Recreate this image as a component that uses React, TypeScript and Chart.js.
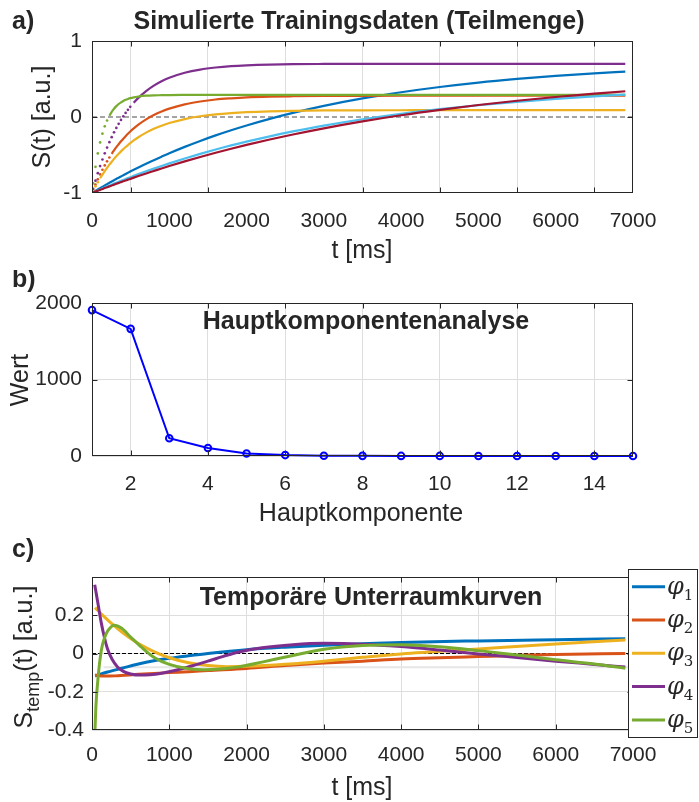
import React, { useEffect, useRef } from "react";
import { Chart, registerables } from "chart.js";
Chart.register(...registerables);

const SANS = '"Liberation Sans", Arial, Helvetica, sans-serif';
const SERIF = '"DejaVu Serif", "Liberation Serif", serif';
const INK = "#262626";
const GRID = "#dedede";
const W = 699;
const H_A = 270;
const H_B = 265;
const H_C = 267;
const Y_AXIS_W = 80;
const X_AXIS_H = 60;

// ---------------- Panel a: simulated training data ----------------
const A_TITLE = "Simulierte Trainingsdaten (Teilmenge)";
const A_X_TITLE = "t [ms]";
const A_Y_TITLE = "S(t) [a.u.]";
const A_TIME = [15, 45, 75, 105, 135, 165, 195, 225, 255, 285, 315, 345, 375, 405, 435, 465, 495,
  540, 600, 700, 800, 900, 1000, 1200, 1400, 1600, 1800, 2000, 2300, 2600, 3000,
  3500, 4000, 4500, 5000, 5500, 6000, 6500, 6900];
const A_BLUE = [-0.991, -0.972, -0.954, -0.936, -0.918, -0.901, -0.883, -0.866, -0.849, -0.832, -0.815, -0.799, -0.782, -0.766, -0.750, -0.734, -0.718,
  -0.695, -0.665, -0.615, -0.568, -0.522, -0.477, -0.393, -0.315, -0.242, -0.174, -0.111, -0.024, 0.054, 0.146,
  0.244, 0.326, 0.395, 0.453, 0.501, 0.542, 0.575, 0.598];
const A_ORANGE = [-0.962, -0.889, -0.820, -0.755, -0.694, -0.637, -0.583, -0.533, -0.485, -0.440, -0.397, -0.358, -0.320, -0.285, -0.252, -0.220, -0.191,
  -0.150, -0.101, -0.031, 0.026, 0.072, 0.110, 0.167, 0.204, 0.230, 0.246, 0.258, 0.268, 0.273, 0.277,
  0.279, 0.280, 0.280, 0.280, 0.280, 0.280, 0.280, 0.280];
const A_YELLOW = [-0.970, -0.912, -0.858, -0.806, -0.758, -0.712, -0.668, -0.627, -0.588, -0.551, -0.516, -0.483, -0.452, -0.423, -0.395, -0.369, -0.344,
  -0.309, -0.267, -0.206, -0.156, -0.114, -0.079, -0.027, 0.010, 0.035, 0.052, 0.064, 0.075, 0.081, 0.086,
  0.088, 0.089, 0.090, 0.090, 0.090, 0.090, 0.090, 0.090];
const A_PURPLE = [-0.944, -0.838, -0.739, -0.646, -0.559, -0.478, -0.402, -0.331, -0.265, -0.202, -0.144, -0.090, -0.039, 0.009, 0.053, 0.095, 0.134,
  0.188, 0.252, 0.341, 0.413, 0.470, 0.516, 0.582, 0.624, 0.651, 0.669, 0.680, 0.690, 0.695, 0.698,
  0.700, 0.700, 0.700, 0.700, 0.700, 0.700, 0.700, 0.700];
const A_GREEN = [-0.873, -0.656, -0.479, -0.335, -0.219, -0.123, -0.046, 0.017, 0.068, 0.109, 0.143, 0.171, 0.193, 0.211, 0.226, 0.238, 0.248,
  0.259, 0.269, 0.280, 0.285, 0.287, 0.289, 0.290, 0.290, 0.290, 0.290, 0.290, 0.290, 0.290, 0.290,
  0.290, 0.290, 0.290, 0.290, 0.290, 0.290, 0.290, 0.290];
const A_LIGHTBLUE = [-0.993, -0.980, -0.966, -0.953, -0.940, -0.927, -0.914, -0.902, -0.889, -0.876, -0.864, -0.852, -0.840, -0.828, -0.816, -0.804, -0.792,
  -0.775, -0.752, -0.715, -0.679, -0.644, -0.610, -0.546, -0.485, -0.428, -0.374, -0.324, -0.254, -0.190, -0.113,
  -0.030, 0.042, 0.103, 0.155, 0.200, 0.239, 0.272, 0.295];
const A_RED = [-0.994, -0.982, -0.970, -0.959, -0.947, -0.935, -0.924, -0.913, -0.901, -0.890, -0.879, -0.868, -0.857, -0.846, -0.835, -0.824, -0.814,
  -0.798, -0.777, -0.743, -0.710, -0.677, -0.645, -0.584, -0.526, -0.471, -0.418, -0.367, -0.296, -0.230, -0.149,
  -0.058, 0.023, 0.094, 0.158, 0.214, 0.263, 0.307, 0.339];
const A_ZERO_X = [0, 7000];
const A_ZERO_Y = [0, 0];

// ---------------- Panel b: PCA ----------------
const B_TITLE = "Hauptkomponentenanalyse";
const B_X_TITLE = "Hauptkomponente";
const B_Y_TITLE = "Wert";
const B_COMPONENT = [1, 2, 3, 4, 5, 6, 7, 8, 9, 10, 11, 12, 13, 14, 15];
const B_VALUE = [1907, 1662, 232, 105, 33, 12, 4, 2, 1, 1, 0, 0, 0, 0, 0];

// ---------------- Panel c: temporal subspace curves ----------------
const C_TITLE = "Temporäre Unterraumkurven";
const C_X_TITLE = "t [ms]";
const C_LEGEND = ["1", "2", "3", "4", "5"];
const C_PHI1_T = [40, 200, 400, 600, 800, 1000, 1250, 1500, 2000, 2500, 3000, 3500, 4000, 5000, 6000, 6900];
const C_PHI1_V = [-0.118, -0.097, -0.076, -0.055, -0.038, -0.025, -0.012, 0.000, 0.020, 0.033, 0.043, 0.051, 0.058, 0.066, 0.072, 0.077];
const C_PHI2_T = [40, 150, 300, 600, 1000, 1250, 1500, 2000, 2500, 3000, 3500, 4000, 4500, 5000, 5500, 6000, 6900];
const C_PHI2_V = [-0.113, -0.118, -0.117, -0.109, -0.100, -0.095, -0.089, -0.078, -0.063, -0.050, -0.040, -0.029, -0.022, -0.016, -0.010, -0.005, 0.000];
const C_PHI3_T = [40, 150, 300, 450, 600, 800, 1000, 1250, 1500, 1750, 2000, 2500, 3000, 3500, 4000, 5000, 6000, 6900];
const C_PHI3_V = [0.240, 0.195, 0.140, 0.092, 0.052, 0.010, -0.022, -0.048, -0.063, -0.069, -0.067, -0.056, -0.040, -0.020, -0.002, 0.024, 0.050, 0.071];
const C_PHI4_T = [35, 80, 120, 160, 200, 260, 330, 400, 500, 620, 750, 900, 1100, 1300, 1500, 1700, 1900, 2200, 2600, 3000, 3500, 4000, 4500, 5000, 5500, 6000, 6500, 6900];
const C_PHI4_V = [0.360, 0.255, 0.160, 0.085, 0.025, -0.030, -0.070, -0.092, -0.107, -0.113, -0.111, -0.103, -0.086, -0.064, -0.040, -0.015, 0.008, 0.030, 0.046, 0.053, 0.049, 0.036, 0.018, -0.002, -0.021, -0.040, -0.057, -0.071];
const C_PHI5_T = [30, 50, 80, 120, 165, 210, 290, 380, 500, 640, 810, 1000, 1250, 1450, 1700, 1900, 2200, 2600, 3000, 3500, 4000, 4500, 5000, 5500, 6000, 6500, 6900];
const C_PHI5_V = [-0.500, -0.280, -0.120, 0.015, 0.085, 0.122, 0.148, 0.133, 0.086, 0.033, -0.022, -0.057, -0.080, -0.085, -0.080, -0.070, -0.045, -0.010, 0.022, 0.042, 0.046, 0.035, 0.015, -0.008, -0.033, -0.055, -0.077];
const C_ZERO_X = [0, 7000];
const C_ZERO_Y = [0, 0];
const C_STRAY_X = [150, 7180];
const C_STRAY_Y = -0.072;

const COLORS = ["#0072BD", "#D95319", "#EDB120", "#7E2F8E", "#77AC30", "#4DBEEE", "#A2142F"];

const pts = (xs: number[], ys: number[]) => xs.map((x, i) => ({ x, y: ys[i] }));

function txt(ctx: CanvasRenderingContext2D, s: string, x: number, y: number, font: string, align: CanvasTextAlign = "left") {
  ctx.save();
  ctx.font = font;
  ctx.fillStyle = INK;
  ctx.textAlign = align;
  ctx.textBaseline = "alphabetic";
  ctx.fillText(s, x, y);
  ctx.restore();
}

function vtxt(ctx: CanvasRenderingContext2D, s: string, x: number, cy: number, font: string) {
  ctx.save();
  ctx.translate(x, cy);
  ctx.rotate(-Math.PI / 2);
  ctx.font = font;
  ctx.fillStyle = INK;
  ctx.textAlign = "center";
  ctx.textBaseline = "alphabetic";
  ctx.fillText(s, 0, 0);
  ctx.restore();
}

function frame(chart: any, xMarks: number[], yMarks: number[]) {
  const { ctx, chartArea: a, scales } = chart;
  ctx.save();
  ctx.strokeStyle = INK;
  ctx.lineWidth = 1;
  const L = Math.round(a.left) + 0.5, R = Math.round(a.right) - 0.5;
  const T = Math.round(a.top) + 0.5, B = Math.round(a.bottom) - 0.5;
  ctx.strokeRect(L, T, R - L, B - T);
  ctx.beginPath();
  for (const v of xMarks) {
    const p = Math.round(scales.x.getPixelForValue(v)) + 0.5;
    ctx.moveTo(p, T); ctx.lineTo(p, T + 5);
    ctx.moveTo(p, B); ctx.lineTo(p, B - 5);
  }
  for (const v of yMarks) {
    const p = Math.round(scales.y.getPixelForValue(v)) + 0.5;
    ctx.moveTo(L, p); ctx.lineTo(L + 5, p);
    ctx.moveTo(R, p); ctx.lineTo(R - 5, p);
  }
  ctx.stroke();
  ctx.restore();
}

const tickFont = { family: SANS, size: 21 };
const BOLD = `bold 25px ${SANS}`;
const REG = `25px ${SANS}`;
const fitX = (s: any) => { s.height = X_AXIS_H; };
const fitY = (s: any) => { s.width = Y_AXIS_W; };
const pad = (top: number, bottom: number, h: number) => ({
  left: 92 - Y_AXIS_W, right: W - 633, top, bottom: h - bottom - X_AXIS_H,
});

function configA(): any {
  const series = [A_BLUE, A_ORANGE, A_YELLOW, A_PURPLE, A_GREEN, A_LIGHTBLUE, A_RED];
  const dotUntil = [0, 255, 105, 525, 225, 0, 0];
  const datasets: any[] = series.map((vals, i) => ({
    data: pts(A_TIME, vals),
    borderColor: COLORS[i],
    backgroundColor: COLORS[i],
    borderWidth: 2.2,
    pointRadius: A_TIME.map((t) => (t < dotUntil[i] ? 1.35 : 0)),
    pointBorderWidth: 0,
    pointBackgroundColor: COLORS[i],
    cubicInterpolationMode: "monotone",
    segment: { borderColor: (c: any) => (c.p0.parsed.x < dotUntil[i] ? "rgba(0,0,0,0)" : undefined) },
    order: 10 - i,
  }));
  datasets.push({
    data: pts(A_ZERO_X, A_ZERO_Y), borderColor: "#4a4a4a", borderWidth: 1.1, borderDash: [5, 3],
    pointRadius: 0, order: 50,
  });
  return {
    type: "line",
    data: { datasets },
    options: {
      responsive: false, animation: false, events: [], devicePixelRatio: 1,
      layout: { padding: pad(41, 193, H_A) },
      plugins: { legend: { display: false }, tooltip: { enabled: false } },
      scales: {
        x: {
          type: "linear", min: 0, max: 7000, afterFit: fitX,
          ticks: { stepSize: 500, autoSkip: false, maxRotation: 0, padding: 16, color: INK, font: tickFont,
            callback: (v: number) => (v % 1000 === 0 ? String(v) : "") },
          grid: { drawTicks: false, color: (c: any) => (c.tick && c.tick.value % 1000 === 500 ? GRID : "rgba(0,0,0,0)") },
          border: { display: false },
        },
        y: {
          type: "linear", min: -1, max: 1, afterFit: fitY,
          ticks: { stepSize: 1, padding: 10, color: INK, font: tickFont, callback: (v: number) => String(v) },
          grid: { display: false, drawTicks: false },
          border: { display: false },
        },
      },
    },
    plugins: [{
      id: "decoA",
      afterDraw(chart: any) {
        const ctx = chart.ctx;
        frame(chart, [500, 1500, 2500, 3500, 4500, 5500, 6500], [0]);
        txt(ctx, "a)", 12, 29, BOLD);
        txt(ctx, A_TITLE, 359, 29, BOLD, "center");
        txt(ctx, A_X_TITLE, 362, 258, REG, "center");
        vtxt(ctx, A_Y_TITLE, 50, 117, REG);
      },
    }],
  };
}

function configB(): any {
  return {
    type: "line",
    data: {
      datasets: [{
        data: pts(B_COMPONENT, B_VALUE),
        borderColor: "#0000FF", borderWidth: 2,
        pointRadius: 3.3, pointBorderWidth: 2, pointBorderColor: "#0000FF",
        pointBackgroundColor: "rgba(0,0,0,0)", tension: 0, clip: false,
      }],
    },
    options: {
      responsive: false, animation: false, events: [], devicePixelRatio: 1,
      layout: { padding: pad(33, 186, H_B) },
      plugins: { legend: { display: false }, tooltip: { enabled: false } },
      scales: {
        x: {
          type: "linear", min: 1, max: 15, afterFit: fitX,
          ticks: { stepSize: 1, autoSkip: false, maxRotation: 0, padding: 16, color: INK, font: tickFont,
            callback: (v: number) => (v % 2 === 0 ? String(v) : "") },
          grid: { drawTicks: false, color: (c: any) => (c.tick && c.tick.value % 2 === 0 ? GRID : "rgba(0,0,0,0)") },
          border: { display: false },
        },
        y: {
          type: "linear", min: 0, max: 2000, afterFit: fitY,
          ticks: { stepSize: 1000, padding: 10, color: INK, font: tickFont, callback: (v: number) => String(v) },
          grid: { drawTicks: false, color: GRID },
          border: { display: false },
        },
      },
    },
    plugins: [{
      id: "decoB",
      afterDraw(chart: any) {
        const ctx = chart.ctx;
        frame(chart, [2, 4, 6, 8, 10, 12, 14], [1000]);
        txt(ctx, "b)", 12, 17, BOLD);
        txt(ctx, B_TITLE, 366, 59, BOLD, "center");
        txt(ctx, B_X_TITLE, 361, 251, REG, "center");
        vtxt(ctx, B_Y_TITLE, 28, 110, REG);
      },
    }],
  };
}

function configC(): any {
  const ts = [C_PHI1_T, C_PHI2_T, C_PHI3_T, C_PHI4_T, C_PHI5_T];
  const vs = [C_PHI1_V, C_PHI2_V, C_PHI3_V, C_PHI4_V, C_PHI5_V];
  const datasets: any[] = ts.map((t, i) => ({
    data: pts(t, vs[i]),
    borderColor: COLORS[i], borderWidth: 3, pointRadius: 0,
    cubicInterpolationMode: "monotone", order: 10 - i,
  }));
  datasets.push({
    data: pts(C_ZERO_X, C_ZERO_Y), borderColor: "#000", borderWidth: 1, borderDash: [4, 2],
    pointRadius: 0, order: 50,
  });
  return {
    type: "line",
    data: { datasets },
    options: {
      responsive: false, animation: false, events: [], devicePixelRatio: 1,
      layout: { padding: pad(42, 195, H_C) },
      plugins: { legend: { display: false }, tooltip: { enabled: false } },
      scales: {
        x: {
          type: "linear", min: 0, max: 7000, afterFit: fitX,
          ticks: { stepSize: 1000, autoSkip: false, maxRotation: 0, padding: 13, color: INK, font: tickFont,
            callback: (v: number) => String(v) },
          grid: { drawTicks: false, color: GRID },
          border: { display: false },
        },
        y: {
          type: "linear", min: -0.4, max: 0.4, afterFit: fitY,
          ticks: { stepSize: 0.2, padding: 8, color: INK, font: tickFont,
            callback: (v: number) => (Math.abs(v) < 1e-9 ? "0" : Math.abs(v - 0.4) < 1e-9 ? "" : v.toFixed(1)) },
          grid: { drawTicks: false, color: GRID },
          border: { display: false },
        },
      },
    },
    plugins: [{
      id: "decoC",
      beforeDatasetsDraw(chart: any) {
        const { ctx, scales } = chart;
        ctx.save();
        ctx.strokeStyle = "#e6e6e6";
        ctx.lineWidth = 2;
        const py = scales.y.getPixelForValue(C_STRAY_Y);
        ctx.beginPath();
        ctx.moveTo(scales.x.getPixelForValue(C_STRAY_X[0]), py);
        ctx.lineTo(scales.x.getPixelForValue(C_STRAY_X[1]), py);
        ctx.stroke();
        ctx.restore();
      },
      afterDraw(chart: any) {
        const ctx = chart.ctx;
        frame(chart, [1000, 2000, 3000, 4000, 5000, 6000], [-0.2, 0, 0.2]);
        txt(ctx, "c)", 12, 22, BOLD);
        txt(ctx, C_TITLE, 371, 70, BOLD, "center");
        txt(ctx, C_X_TITLE, 362, 260, REG, "center");
        // y title with subscript
        ctx.save();
        ctx.translate(32, 122);
        ctx.rotate(-Math.PI / 2);
        ctx.fillStyle = INK;
        ctx.textBaseline = "alphabetic";
        const f1 = REG, f2 = `18px ${SANS}`;
        ctx.font = f1; const w1 = ctx.measureText("S").width; const w3 = ctx.measureText("(t) [a.u.]").width;
        ctx.font = f2; const w2 = ctx.measureText("temp").width;
        let x0 = -(w1 + w2 + w3) / 2;
        ctx.font = f1; ctx.fillText("S", x0, 0); x0 += w1;
        ctx.font = f2; ctx.fillText("temp", x0, 7); x0 += w2;
        ctx.font = f1; ctx.fillText("(t) [a.u.]", x0, 0);
        ctx.restore();
        // legend
        ctx.save();
        ctx.fillStyle = "#fff";
        ctx.fillRect(628.5, 34.5, 69, 168);
        ctx.strokeStyle = INK;
        ctx.lineWidth = 1;
        ctx.strokeRect(628.5, 34.5, 69, 168);
        C_LEGEND.forEach((lab, i) => {
          const y = 51.7 + i * 33.3;
          ctx.strokeStyle = COLORS[i];
          ctx.lineWidth = 3;
          ctx.beginPath();
          ctx.moveTo(632, y);
          ctx.lineTo(665, y);
          ctx.stroke();
          ctx.fillStyle = INK;
          ctx.textBaseline = "alphabetic";
          ctx.textAlign = "left";
          ctx.font = `italic 24px ${SERIF}`;
          ctx.fillText("\u03C6", 667, y + 7);
          const pw = ctx.measureText("\u03C6").width;
          ctx.font = `15px ${SERIF}`;
          ctx.fillText(lab, 667 + pw, y + 13);
        });
        ctx.restore();
      },
    }],
  };
}

export default function App() {
  const refA = useRef<HTMLCanvasElement>(null);
  const refB = useRef<HTMLCanvasElement>(null);
  const refC = useRef<HTMLCanvasElement>(null);
  useEffect(() => {
    const charts = [
      new Chart(refA.current as HTMLCanvasElement, configA()),
      new Chart(refB.current as HTMLCanvasElement, configB()),
      new Chart(refC.current as HTMLCanvasElement, configC()),
    ];
    return () => charts.forEach((c) => c.destroy());
  }, []);
  return (
    <div style={{ position: "fixed", left: 0, top: 0, width: W, height: 802, background: "#fff" }}>
      <canvas ref={refA} width={W} height={H_A} style={{ position: "absolute", left: 0, top: 0 }} />
      <canvas ref={refB} width={W} height={H_B} style={{ position: "absolute", left: 0, top: H_A }} />
      <canvas ref={refC} width={W} height={H_C} style={{ position: "absolute", left: 0, top: H_A + H_B }} />
    </div>
  );
}
